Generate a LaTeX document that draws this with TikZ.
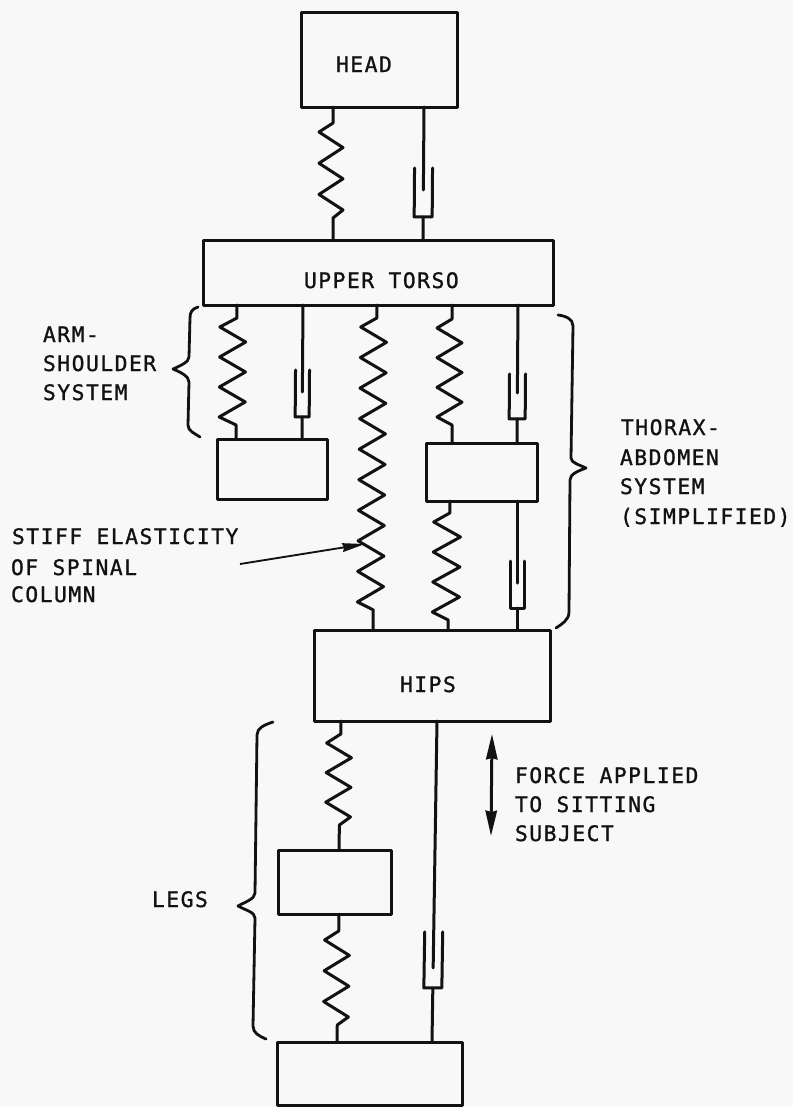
\documentclass[tikz,border=0pt]{standalone}
\usepackage{fontspec}
\newfontfamily\lblfont[LetterSpace=7,FakeBold=1.1]{DejaVu Sans Mono}
\usetikzlibrary{calc,arrows.meta}
\definecolor{paper}{RGB}{248,248,248}
\definecolor{ink}{RGB}{18,18,18}
\tikzset{
  massbox/.style={draw=ink,line width=2.25pt,inner sep=0pt,outer sep=0pt,line join=round},
  wire/.style={draw=ink,line width=2.25pt,line join=round,line cap=round},
  bracket/.style={draw=ink,line width=2.1pt,line join=round,line cap=round},
  lbl/.style={anchor=base west,inner sep=0pt,outer sep=0pt,text=ink,font=\lblfont\fontsize{16pt}{18pt}\selectfont},
  thinarrow/.style={draw=ink,line width=1.4pt,-{Stealth[length=17pt,width=6.5pt,inset=1pt]}},
  forcearrow/.style={draw=ink,line width=2.25pt,{Stealth[length=19pt,width=8.5pt,inset=1pt]}-{Stealth[length=19pt,width=8.5pt,inset=1pt]}}
}
% #1 top, #2 bottom, #3 first peak y, #4 last peak y, #5 peak count, #6 left offset, #7 right offset
\newcommand{\springline}[7]{%
  \pgfmathtruncatemacro{\nlast}{#5-1}%
  \draw[wire] (#1) -- ($(#1)!(#1 |- 0,#3-9)!(#2)$)
    \foreach \i [evaluate=\i as \yy using {#3+(#4-#3)*\i/(#5-1)},
                 evaluate=\i as \dx using {ifthenelse(mod(\i,2)==0,#6,#7)}] in {0,...,\nlast}
      { -- ($(#1)!(#1 |- 0,\yy)!(#2)+(\dx,0)$) }
    -- ($(#1)!(#1 |- 0,#4+8)!(#2)$) -- (#2);}
% #1 top, #2 bottom, #3 cup top y, #4 cup bottom y, #5 piston tip y, #6 half width
\newcommand{\damper}[6]{%
  \draw[wire] (#1) -- ($(#1)!(#1 |- 0,#5)!(#2)$);
  \draw[wire] ($(#1)!(#1 |- 0,#3)!(#2)+(-#6,0)$) -- ($(#1)!(#1 |- 0,#4)!(#2)+(-#6,0)$)
     -- ($(#1)!(#1 |- 0,#4)!(#2)+(#6,0)$) -- ($(#1)!(#1 |- 0,#3)!(#2)+(#6,0)$);
  \draw[wire] ($(#1)!(#1 |- 0,#4)!(#2)$) -- (#2);}
\begin{document}
\begin{tikzpicture}[x=0.75pt,y=-0.75pt]
\fill[paper] (0,0) rectangle (793,1107);
\useasboundingbox (0,0) rectangle (793,1107);
% masses
\node[massbox,minimum width=117pt,minimum height=71.25pt] (head) at (379,59.5) {};
\node[massbox,minimum width=262.5pt,minimum height=48.75pt] (torso) at (378,272.5) {};
\node[massbox,minimum width=82.5pt,minimum height=45pt] (arm) at (272,469) {};
\node[massbox,minimum width=83.25pt,minimum height=43.5pt] (thorax) at (481.5,472) {};
\node[massbox,minimum width=177pt,minimum height=68.25pt] (hips) at (432,675.5) {};
\node[massbox,minimum width=84.75pt,minimum height=48pt] (legs) at (334.5,882) {};
\node[massbox,minimum width=138.75pt,minimum height=47.25pt] (foot) at (369.5,1073.5) {};
% attachment points
\coordinate (s1a) at (333,107);  \coordinate (s1b) at (333,240);
\coordinate (d1a) at (424,107);  \coordinate (d1b) at (423,240);
\coordinate (s2a) at (237,305);  \coordinate (s2b) at (236,439);
\coordinate (d2a) at (303,305);  \coordinate (d2b) at (302,439);
\coordinate (s3a) at (377,305);  \coordinate (s3b) at (373,630);
\coordinate (s4a) at (452,305);  \coordinate (s4b) at (452,443);
\coordinate (d3a) at (518,305);  \coordinate (d3b) at (517,443);
\coordinate (s5a) at (450,501);  \coordinate (s5b) at (448,630);
\coordinate (d4a) at (517,501);  \coordinate (d4b) at (517,630);
\coordinate (s6a) at (341,721);  \coordinate (s6b) at (339,850);
\coordinate (s7a) at (339,914);  \coordinate (s7b) at (337,1042);
\coordinate (d5a) at (437,721);  \coordinate (d5b) at (432,1042);
% springs
\springline{s1a}{s1b}{132}{210}{6}{-14}{10}
\springline{s2a}{s2b}{327}{417}{7}{-17}{9}
\springline{s3a}{s3b}{327}{602}{19}{-16}{10}
\springline{s4a}{s4b}{328}{417}{7}{-15}{10}
\springline{s5a}{s5b}{522}{612}{7}{-16}{11}
\springline{s6a}{s6b}{743}{817}{6}{-14}{11}
\springline{s7a}{s7b}{940}{1017}{6}{-14}{11}
% dampers
\damper{d1a}{d1b}{168}{217}{190}{9}
\damper{d2a}{d2b}{370}{417}{392}{7}
\damper{d3a}{d3b}{374}{419}{393}{8}
\damper{d4a}{d4b}{561}{608}{583}{7}
\damper{d5a}{d5b}{932}{988}{968}{9}
% braces
\draw[bracket] (198,307) .. controls (192,309) and (190,312) .. (190,318) -- (189,357) .. controls (189,362) and (180,366) .. (173,369) .. controls (180,372) and (189,376) .. (189,382) -- (188,425) .. controls (188,431) and (194,433) .. (200,437);
\draw[bracket] (558,315) .. controls (566,316) and (573,319) .. (573,326) -- (571,458) .. controls (571,463) and (580,465) .. (586,468) .. controls (578,471) and (570,474) .. (570,480) -- (569,612) .. controls (569,620) and (562,624) .. (556,628);
\draw[bracket] (273,722) .. controls (264,725) and (257,728) .. (257,735) -- (255,893) .. controls (255,899) and (245,902) .. (238,906) .. controls (245,910) and (255,912) .. (255,918) -- (253,1026) .. controls (253,1033) and (259,1036) .. (266,1039);
% arrows
\coordinate (stiffstart) at (240,564);
\coordinate (stifftip) at (365,544);
\draw[thinarrow] (stiffstart) -- (stifftip);
\coordinate (forcetop) at (492,734);
\coordinate (forcebot) at (491,836);
\draw[forcearrow] (forcetop) -- (forcebot);
% labels
\node[lbl] (t1) at (336,72) {HEAD};
\node[lbl] (t2) at (304,288) {UPPER TORSO};
\node[lbl] (t3) at (43,342) {ARM-};
\node[lbl] (t4) at (43,371) {SHOULDER};
\node[lbl] (t5) at (43,400) {SYSTEM};
\node[lbl] (t6) at (12,544) {STIFF ELASTICITY};
\node[lbl] (t7) at (11,575) {OF SPINAL};
\node[lbl] (t8) at (11,602) {COLUMN};
\node[lbl] (t9) at (621,435) {THORAX-};
\node[lbl] (t10) at (620,465) {ABDOMEN};
\node[lbl] (t11) at (620,494) {SYSTEM};
\node[lbl] (t12) at (620,524) {(SIMPLIFIED)};
\node[lbl] (t13) at (400,692) {HIPS};
\node[lbl] (t14) at (515,783) {FORCE APPLIED};
\node[lbl] (t15) at (515,812) {TO SITTING};
\node[lbl] (t16) at (515,841) {SUBJECT};
\node[lbl] (t17) at (152,907) {LEGS};
\end{tikzpicture}
\end{document}
